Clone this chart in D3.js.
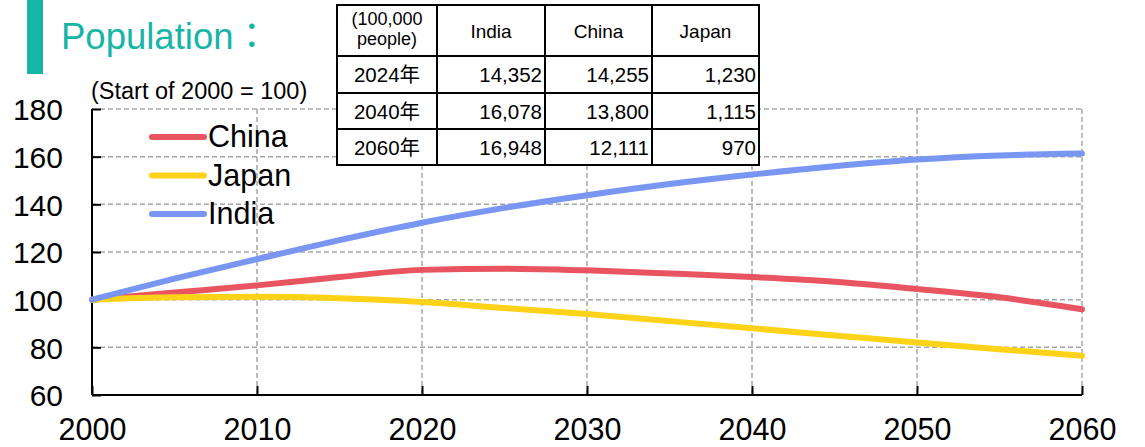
<!DOCTYPE html>
<html>
<head>
<meta charset="utf-8">
<script src="https://cdn.jsdelivr.net/npm/d3@7/dist/d3.min.js"></script>
<style>
  html, body { margin: 0; padding: 0; background: #fff; }
  svg { display: block; font-family: "Liberation Sans", Arial, "Noto Sans CJK JP", sans-serif; }
</style>
</head>
<body>
<svg id="chart" width="1145" height="447"></svg>
<script>
// Population index, start of 2000 = 100
const years = [2000, 2005, 2010, 2015, 2020, 2025, 2030, 2035, 2040, 2045, 2050, 2055, 2060];
const india = [100, 108.8, 117, 125, 132.3, 138.5, 143.8, 148.5, 152.5, 156, 158.8, 160.5, 161.3];
const china = [100, 103, 106, 109.5, 112.5, 113, 112.3, 111, 109.5, 107.5, 104.5, 101, 96];
const japan = [100, 101, 101.2, 100.6, 99, 96.5, 94, 91, 88, 85, 82, 79.2, 76.5];

const xTicks = [2000, 2010, 2020, 2030, 2040, 2050, 2060];
const yTicks = [60, 80, 100, 120, 140, 160, 180];

// Table (unit: 100,000 people)
const tableHeader = ["(100,000\npeople)", "India", "China", "Japan"];
const tableYears = ["2024年", "2040年", "2060年"];
const tableIndia = ["14,352", "16,078", "16,948"];
const tableChina = ["14,255", "13,800", "12,111"];
const tableJapan = ["1,230", "1,115", "970"];

const seriesNames = ["China", "Japan", "India"];
const seriesColors = { China: "#e85560", Japan: "#ffd21a", India: "#7896f2" };
const seriesValues = { China: china, Japan: japan, India: india };

const svg = d3.select("#chart");
const plotLeft = 92, plotRight = 1082, plotTop = 109, plotBottom = 395;

const x = d3.scaleLinear().domain([2000, 2060]).range([plotLeft, plotRight]);
const y = d3.scaleLinear().domain([60, 180]).range([plotBottom, plotTop]);

// Title block
svg.append("rect").attr("x", 27).attr("y", 0).attr("width", 16).attr("height", 74).attr("fill", "#17b5a6");
svg.append("text").attr("x", 61).attr("y", 49).attr("font-size", 36.5).attr("fill", "#17b5a6").text("Population：");
svg.append("text").attr("x", 91).attr("y", 99).attr("font-size", 23.5).attr("fill", "#000").text("(Start of 2000 = 100)");

// Grid
const grid = svg.append("g").attr("stroke", "#a6a6a6").attr("stroke-width", 1.5).attr("stroke-dasharray", "5,3");
grid.selectAll("line.h").data(yTicks.filter(d => d > 60)).join("line").attr("class", "h")
  .attr("x1", plotLeft).attr("x2", plotRight).attr("y1", d => y(d)).attr("y2", d => y(d));
grid.selectAll("line.v").data(xTicks.filter(d => d > 2000)).join("line").attr("class", "v")
  .attr("y1", plotTop).attr("y2", plotBottom).attr("x1", d => x(d)).attr("x2", d => x(d));

// Axes
const yAxis = d3.axisLeft(y).tickValues(yTicks).tickSize(-9);
const gy = svg.append("g").attr("transform", `translate(${plotLeft},0)`).call(yAxis);
gy.select(".domain").attr("stroke", "#000").attr("stroke-width", 2).attr("d", `M0,${plotTop}V${plotBottom}`);
gy.selectAll(".tick line").attr("stroke", "#000").attr("stroke-width", 2);
gy.selectAll(".tick text").attr("font-size", 30).attr("fill", "#000").attr("font-family", "Liberation Sans, Arial, sans-serif")
  .attr("x", -29).attr("dy", "0.36em");

const xAxis = d3.axisBottom(x).tickValues(xTicks).tickFormat(d3.format("d")).tickSize(-9);
const gx = svg.append("g").attr("transform", `translate(0,${plotBottom})`).call(xAxis);
gx.select(".domain").attr("stroke", "#000").attr("stroke-width", 2).attr("d", `M${plotLeft},0H${plotRight}`);
gx.selectAll(".tick line").attr("stroke", "#000").attr("stroke-width", 2);
gx.selectAll(".tick text").attr("font-size", 30.5).attr("fill", "#000").attr("font-family", "Liberation Sans, Arial, sans-serif")
  .attr("y", 45).attr("dy", 0);

// Lines
const line = d3.line().x((d, i) => x(years[i])).y(d => y(d)).curve(d3.curveMonotoneX);
["China", "Japan", "India"].forEach(name => {
  svg.append("path").datum(seriesValues[name])
    .attr("fill", "none").attr("stroke", seriesColors[name]).attr("stroke-width", 6)
    .attr("stroke-linecap", "round").attr("stroke-linejoin", "round").attr("d", line);
});

// Legend
const legend = svg.append("g");
seriesNames.forEach((name, i) => {
  const ly = 137 + i * 38.5;
  legend.append("line").attr("x1", 152).attr("x2", 204).attr("y1", ly).attr("y2", ly)
    .attr("stroke", seriesColors[name]).attr("stroke-width", 6).attr("stroke-linecap", "round");
  legend.append("text").attr("x", 208).attr("y", ly + 10).attr("font-size", 30.5).attr("fill", "#000").text(name);
});

// Data table
const colEdges = [337, 437, 545, 652, 759];
const rowEdges = [5, 56, 93, 129, 165];
const tbl = svg.append("g");
tbl.append("rect").attr("x", colEdges[0]).attr("y", rowEdges[0])
  .attr("width", colEdges[4] - colEdges[0]).attr("height", rowEdges[4] - rowEdges[0])
  .attr("fill", "#fff");
// header row
tableHeader.forEach((h, c) => {
  const cx = (colEdges[c] + colEdges[c + 1]) / 2;
  const lines = h.split("\n");
  if (lines.length === 1) {
    tbl.append("text").attr("x", cx).attr("y", (rowEdges[0] + rowEdges[1]) / 2 + 7)
      .attr("text-anchor", "middle").attr("font-size", 19).text(h);
  } else {
    lines.forEach((t, k) => {
      tbl.append("text").attr("x", cx).attr("y", rowEdges[0] + 20 + k * 20)
        .attr("text-anchor", "middle").attr("font-size", 18).text(t);
    });
  }
});
const rows = tableYears.map((yr, r) => [yr, tableIndia[r], tableChina[r], tableJapan[r]]);
rows.forEach((row, r) => {
  const ty = (rowEdges[r + 1] + rowEdges[r + 2]) / 2 + 7.5;
  row.forEach((v, c) => {
    if (c === 0) {
      tbl.append("text").attr("x", (colEdges[0] + colEdges[1]) / 2).attr("y", ty)
        .attr("text-anchor", "middle").attr("font-size", 20.5).text(v);
    } else {
      tbl.append("text").attr("x", colEdges[c + 1] - 3).attr("y", ty)
        .attr("text-anchor", "end").attr("font-size", 20.5).text(v);
    }
  });
});
const border = tbl.append("g").attr("stroke", "#000").attr("stroke-width", 2);
colEdges.forEach(cx => border.append("line").attr("x1", cx).attr("x2", cx).attr("y1", rowEdges[0]).attr("y2", rowEdges[4]));
rowEdges.forEach(ry => border.append("line").attr("x1", colEdges[0] - 1).attr("x2", colEdges[4] + 1).attr("y1", ry).attr("y2", ry));
</script>
</body>
</html>
